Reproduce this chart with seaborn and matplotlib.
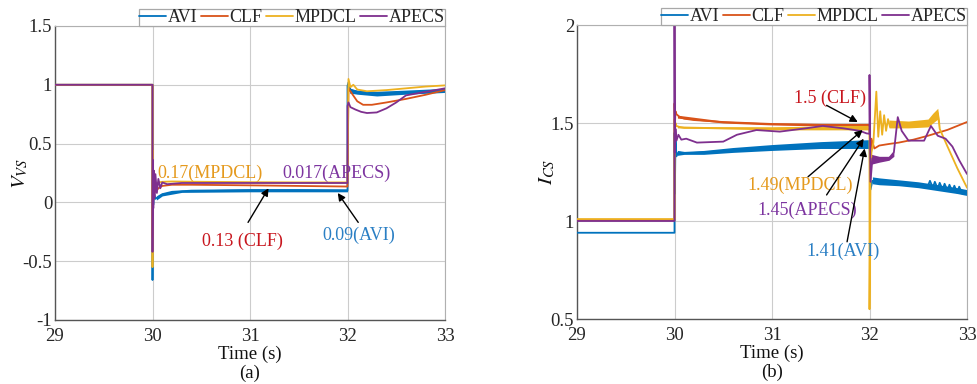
import matplotlib
matplotlib.use("Agg")
import matplotlib.pyplot as plt
import seaborn as sns
import numpy as np

sns.set_style("white")
plt.rcParams["font.family"] = ["Liberation Serif", "DejaVu Serif"]
plt.rcParams["mathtext.fontset"] = "stix"

names = ["AVI", "CLF", "MPDCL", "APECS"]
colors = ["#0072BD", "#D95319", "#EDB120", "#7E2F8E"]
label_colors = ["#2A7FC4", "#C8161E", "#E59A1E", "#7D35A0"]

# ---------------- panel (a): V_VS ----------------
a_avi_t = [29.0, 30.0, 30.0, 30.004, 30.008, 30.015, 30.03, 30.06, 30.1, 30.2, 30.4, 31.0, 31.5, 32.0, 32.0, 32.01, 32.03, 32.06, 32.1, 32.2, 32.3, 32.5, 32.7, 32.85, 33.0]
a_avi_v = [1.0, 1.0, -0.66, 0.22, -0.02, 0.08, 0.03, 0.05, 0.07, 0.09, 0.10, 0.105, 0.105, 0.10, 0.99, 1.02, 0.96, 0.95, 0.94, 0.93, 0.925, 0.93, 0.94, 0.945, 0.955]
a_clf_t = [29.0, 30.0, 30.0, 30.004, 30.008, 30.015, 30.03, 30.06, 30.1, 30.2, 30.4, 31.0, 31.5, 32.0, 32.0, 32.01, 32.05, 32.1, 32.16, 32.25, 32.4, 32.6, 32.8, 33.0]
a_clf_v = [1.0, 1.0, -0.3, 0.3, 0.02, 0.18, 0.09, 0.12, 0.14, 0.15, 0.15, 0.145, 0.14, 0.135, 0.135, 0.97, 0.92, 0.86, 0.83, 0.83, 0.85, 0.88, 0.915, 0.955]
a_mpdcl_t = [29.0, 30.0, 30.0, 30.004, 30.008, 30.015, 30.03, 30.06, 30.1, 30.2, 30.4, 31.0, 31.5, 32.0, 32.0, 32.01, 32.03, 32.06, 32.1, 32.2, 32.4, 32.6, 32.8, 33.0]
a_mpdcl_v = [1.0, 1.0, -0.55, 0.44, 0.08, 0.22, 0.14, 0.17, 0.175, 0.178, 0.176, 0.172, 0.17, 0.17, 0.17, 1.05, 0.98, 1.0, 0.96, 0.945, 0.955, 0.97, 0.985, 0.995]
a_apecs_t = [29.0, 30.0, 30.0, 30.004, 30.008, 30.014, 30.02, 30.03, 30.045, 30.06, 30.08, 30.1, 30.15, 30.3, 31.0, 31.5, 32.0, 32.0, 32.01, 32.03, 32.08, 32.14, 32.2, 32.3, 32.4, 32.5, 32.6, 32.7, 32.8, 32.9, 33.0]
a_apecs_v = [1.0, 1.0, -0.42, 0.36, -0.05, 0.27, 0.04, 0.24, 0.08, 0.2, 0.12, 0.17, 0.155, 0.165, 0.165, 0.165, 0.165, 0.82, 0.85, 0.81, 0.79, 0.77, 0.76, 0.765, 0.80, 0.85, 0.91, 0.925, 0.94, 0.955, 0.97]

# oscillation bands (a)
a_avi_band1_t = [30.04, 30.1, 30.3, 31.0, 32.0]
a_avi_band1_lo = [0.02, 0.055, 0.085, 0.09, 0.09]
a_avi_band1_hi = [0.05, 0.08, 0.105, 0.115, 0.115]
a_avi_band2_t = [32.02, 32.1, 32.3, 32.6, 33.0]
a_avi_band2_lo = [0.93, 0.92, 0.905, 0.92, 0.935]
a_avi_band2_hi = [0.97, 0.955, 0.945, 0.955, 0.97]

# ---------------- panel (b): I_CS ----------------
b_avi_t = [29.0, 30.0, 30.0, 30.004, 30.01, 30.02, 30.04, 30.1, 30.3, 30.6, 31.0, 31.5, 32.0, 32.0, 32.01, 32.03, 32.1, 32.3, 32.5, 32.6, 32.62, 32.65, 32.67, 32.7, 32.72, 32.75, 32.77, 32.8, 32.82, 32.85, 32.87, 32.9, 32.92, 32.95, 33.0]
b_avi_v = [0.94, 0.94, 1.45, 1.14, 1.42, 1.33, 1.35, 1.345, 1.35, 1.362, 1.375, 1.388, 1.392, 1.392, 1.16, 1.205, 1.2, 1.195, 1.185, 1.18, 1.205, 1.17, 1.2, 1.165, 1.195, 1.16, 1.19, 1.155, 1.185, 1.15, 1.18, 1.145, 1.175, 1.14, 1.145]
b_clf_t = [29.0, 30.0, 30.0, 30.005, 30.01, 30.02, 30.05, 30.1, 30.2, 30.5, 31.0, 31.5, 32.0, 32.0, 32.01, 32.02, 32.05, 32.1, 32.2, 32.3, 32.45, 32.6, 32.8, 33.0]
b_clf_v = [1.005, 1.005, 1.6, 1.5, 1.56, 1.545, 1.532, 1.522, 1.515, 1.505, 1.495, 1.491, 1.49, 1.49, 1.3, 1.42, 1.37, 1.385, 1.393, 1.40, 1.415, 1.435, 1.465, 1.505]
b_mpdcl_t = [29.0, 30.0, 30.0, 30.005, 30.01, 30.02, 30.05, 30.1, 30.5, 31.0, 31.5, 32.0, 32.0, 32.01, 32.02, 32.04, 32.07, 32.09, 32.11, 32.13, 32.15, 32.17, 32.19, 32.21, 32.3, 32.4, 32.5, 32.6, 32.65, 32.7, 32.72, 32.8, 32.9, 33.0]
b_mpdcl_v = [1.01, 1.01, 1.52, 1.45, 1.50, 1.485, 1.48, 1.475, 1.474, 1.472, 1.474, 1.477, 0.55, 1.2, 1.35, 1.4, 1.66, 1.43, 1.56, 1.44, 1.54, 1.46, 1.52, 1.48, 1.495, 1.493, 1.495, 1.50, 1.525, 1.55, 1.47, 1.38, 1.27, 1.17]
b_apecs_t = [29.0, 30.0, 30.0, 30.003, 30.01, 30.02, 30.04, 30.07, 30.12, 30.23, 30.5, 30.64, 30.84, 31.08, 31.35, 31.52, 31.73, 31.9, 31.97, 32.0, 32.0, 32.01, 32.03, 32.1, 32.2, 32.25, 32.29, 32.33, 32.4, 32.56, 32.63, 32.7, 32.78, 32.85, 32.92, 33.0]
b_apecs_v = [1.0, 1.0, 2.0, 1.35, 1.47, 1.41, 1.44, 1.415, 1.42, 1.40, 1.405, 1.44, 1.464, 1.456, 1.473, 1.485, 1.473, 1.46, 1.447, 1.445, 1.745, 1.2, 1.32, 1.315, 1.32, 1.35, 1.53, 1.46, 1.41, 1.41, 1.485, 1.435, 1.42, 1.38, 1.31, 1.24]

# oscillation bands (b)
b_avi_band1_t = [30.03, 30.1, 30.3, 30.6, 31.0, 31.5, 32.0]
b_avi_band1_lo = [1.335, 1.34, 1.34, 1.35, 1.36, 1.37, 1.37]
b_avi_band1_hi = [1.36, 1.355, 1.36, 1.375, 1.39, 1.405, 1.415]
b_avi_band2_t = [32.03, 32.1, 32.3, 32.5, 32.7, 32.9, 33.0]
b_avi_band2_lo = [1.19, 1.185, 1.18, 1.17, 1.155, 1.14, 1.13]
b_avi_band2_hi = [1.225, 1.22, 1.21, 1.2, 1.185, 1.17, 1.16]
b_clf_band_t = [30.03, 30.5, 31.0, 31.5, 32.0]
b_clf_band_lo = [1.525, 1.5, 1.49, 1.485, 1.485]
b_clf_band_hi = [1.54, 1.51, 1.5, 1.497, 1.498]
b_mpdcl_band1_t = [30.03, 30.5, 31.0, 31.5, 32.0]
b_mpdcl_band1_lo = [1.475, 1.47, 1.465, 1.465, 1.465]
b_mpdcl_band1_hi = [1.485, 1.48, 1.48, 1.485, 1.49]
b_mpdcl_band2_t = [32.2, 32.4, 32.6, 32.65, 32.7, 32.72]
b_mpdcl_band2_lo = [1.475, 1.475, 1.48, 1.5, 1.52, 1.47]
b_mpdcl_band2_hi = [1.515, 1.51, 1.52, 1.55, 1.575, 1.5]
b_apecs_band_t = [32.02, 32.1, 32.2, 32.25]
b_apecs_band_lo = [1.29, 1.30, 1.31, 1.33]
b_apecs_band_hi = [1.34, 1.33, 1.33, 1.35]

x_ticks = [29, 30, 31, 32, 33]
a_yticks = [-1, -0.5, 0, 0.5, 1, 1.5]
a_yticklabels = ["-1", "-0.5", "0", "0.5", "1", "1.5"]
b_yticks = [0.5, 1, 1.5, 2]
b_yticklabels = ["0.5", "1", "1.5", "2"]

a_notes = ["0.17(MPDCL)", "0.017(APECS)", "0.13 (CLF)", "0.09(AVI)"]
b_notes = ["1.5 (CLF)", "1.49(MPDCL)", "1.45(APECS)", "1.41(AVI)"]

FS = 13

fig = plt.figure(figsize=(9.77, 3.84), dpi=100)
axA = fig.add_axes([55 / 977, 1 - 320 / 384, 390 / 977, 294 / 384])
axB = fig.add_axes([577 / 977, 1 - 319 / 384, 390 / 977, 294 / 384])


def draw_series(ax, series, bands):
    for (t, v), name, c in zip(series, names, colors):
        for bt, lo, hi, bi in bands:
            if bi == name:
                ax.fill_between(bt, lo, hi, color=c, lw=0, zorder=2)
        sns.lineplot(x=t, y=v, ax=ax, color=c, lw=1.3, sort=False,
                     estimator=None, label=name, zorder=3)


draw_series(axA,
            [(a_avi_t, a_avi_v), (a_clf_t, a_clf_v), (a_mpdcl_t, a_mpdcl_v), (a_apecs_t, a_apecs_v)],
            [(a_avi_band1_t, a_avi_band1_lo, a_avi_band1_hi, "AVI"),
             (a_avi_band2_t, a_avi_band2_lo, a_avi_band2_hi, "AVI")])
draw_series(axB,
            [(b_avi_t, b_avi_v), (b_clf_t, b_clf_v), (b_mpdcl_t, b_mpdcl_v), (b_apecs_t, b_apecs_v)],
            [(b_avi_band1_t, b_avi_band1_lo, b_avi_band1_hi, "AVI"),
             (b_avi_band2_t, b_avi_band2_lo, b_avi_band2_hi, "AVI"),
             (b_clf_band_t, b_clf_band_lo, b_clf_band_hi, "CLF"),
             (b_mpdcl_band1_t, b_mpdcl_band1_lo, b_mpdcl_band1_hi, "MPDCL"),
             (b_mpdcl_band2_t, b_mpdcl_band2_lo, b_mpdcl_band2_hi, "MPDCL"),
             (b_apecs_band_t, b_apecs_band_lo, b_apecs_band_hi, "APECS")])

for ax, yt, ytl, ylim, ylab, sub, lx in [
        (axA, a_yticks, a_yticklabels, (-1, 1.5), r"$V_{VS}$", "(a)", -0.064),
        (axB, b_yticks, b_yticklabels, (0.5, 2), r"$I_{CS}$", "(b)", -0.051)]:
    ax.set_xlim(29, 33)
    ax.set_ylim(*ylim)
    ax.set_xticks(x_ticks)
    ax.set_xticklabels([str(x) for x in x_ticks], fontsize=FS + 0.5)
    ax.set_yticks(yt)
    ax.set_yticklabels(ytl, fontsize=FS + 0.5)
    ax.tick_params(axis="both", length=0, pad=2, colors="#262626")
    ax.tick_params(axis="x", pad=6)
    ax.grid(True, color="#cccccc", lw=0.8)
    ax.set_axisbelow(True)
    for s in ["left", "bottom"]:
        ax.spines[s].set_color("#555555")
        ax.spines[s].set_linewidth(1.0)
    for s in ["top", "right"]:
        ax.spines[s].set_color("#b0b0b0")
        ax.spines[s].set_linewidth(0.8)
    ax.set_xlabel("Time (s)", fontsize=FS + 0.5, color="#111111")
    ax.xaxis.set_label_coords(0.5, -0.088)
    ax.set_ylabel(ylab, fontsize=FS + 2, color="#111111")
    ax.yaxis.set_label_coords(lx, 0.5)
    ax.text(0.5, -0.183, sub, transform=ax.transAxes, ha="center", va="center",
            fontsize=FS + 0.5, color="#111111")
    leg = ax.legend(loc="lower right", bbox_to_anchor=(1.0, 1.0), ncol=4,
                    frameon=True, fancybox=False, framealpha=1,
                    edgecolor="#a8a8a8", fontsize=FS, borderpad=0.0,
                    borderaxespad=0.0, handlelength=1.5, handletextpad=0.08,
                    columnspacing=0.2)
    leg.get_frame().set_linewidth(0.9)

arrow_kw = dict(arrowstyle="-|>", color="black", lw=1.0, mutation_scale=11,
                shrinkA=0, shrinkB=0)

# panel (a) annotations
axA.text(30.046, 0.25, a_notes[0], color=label_colors[2], fontsize=FS, ha="left", va="center")
axA.text(31.33, 0.25, a_notes[1], color=label_colors[3], fontsize=FS, ha="left", va="center")
axA.text(30.92, -0.335, a_notes[2], color=label_colors[1], fontsize=FS, ha="center", va="center")
axA.annotate("", xy=(31.19, 0.12), xytext=(30.98, -0.17), arrowprops=arrow_kw)
axA.text(32.12, -0.28, a_notes[3], color=label_colors[0], fontsize=FS, ha="center", va="center")
axA.annotate("", xy=(31.9, 0.08), xytext=(32.11, -0.17), arrowprops=arrow_kw)

# panel (b) annotations
axB.text(31.59, 1.627, b_notes[0], color=label_colors[1], fontsize=FS, ha="center", va="center")
axB.annotate("", xy=(31.88, 1.505), xytext=(31.56, 1.59), arrowprops=arrow_kw)
axB.text(31.29, 1.184, b_notes[1], color=label_colors[2], fontsize=FS, ha="center", va="center")
axB.annotate("", xy=(31.93, 1.464), xytext=(31.37, 1.226), arrowprops=arrow_kw)
axB.text(31.36, 1.056, b_notes[2], color=label_colors[3], fontsize=FS, ha="center", va="center")
axB.annotate("", xy=(31.94, 1.42), xytext=(31.56, 1.133), arrowprops=arrow_kw)
axB.text(31.73, 0.843, b_notes[3], color=label_colors[0], fontsize=FS, ha="center", va="center")
axB.annotate("", xy=(31.95, 1.37), xytext=(31.77, 0.894), arrowprops=arrow_kw)

fig.savefig("out.png", dpi=100, facecolor="white")
